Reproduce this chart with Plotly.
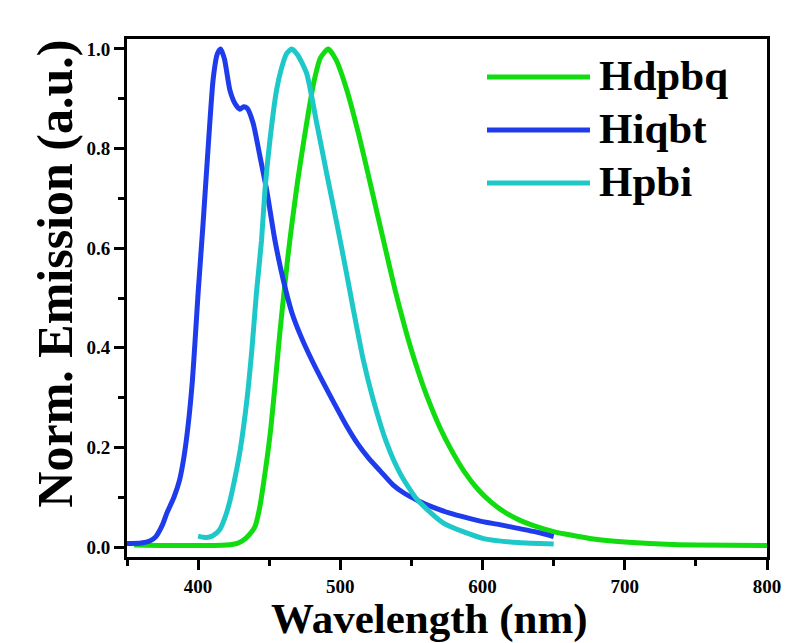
import plotly.graph_objects as go

# ---- data ----
series_names = ["Hdpbq", "Hiqbt", "Hpbi"]
series_colors = ["#10DC10", "#1E3CEB", "#1EC8C8"]

hdpbq_wl = [355, 380, 420, 428, 432, 436, 440, 443, 446, 450.7, 454.2, 457.3, 460, 463, 466,
            470, 474, 478, 481.5, 486, 491.5, 497, 504.5, 513.9, 522.1, 530.3, 538.5, 545, 550,
            556, 561, 570, 578, 587, 597, 606, 615, 626, 638, 650, 662, 678, 700, 725, 750, 800]
hdpbq_val = [0.004, 0.003, 0.004, 0.008, 0.014, 0.025, 0.041, 0.075, 0.128, 0.228, 0.329, 0.425,
             0.50, 0.58, 0.65, 0.735, 0.81, 0.88, 0.935, 0.982, 1.0, 0.978, 0.918, 0.817, 0.717,
             0.616, 0.516, 0.445, 0.395, 0.342, 0.302, 0.24, 0.195, 0.152, 0.115, 0.09, 0.071,
             0.054, 0.041, 0.031, 0.024, 0.016, 0.010, 0.006, 0.004, 0.003]

hiqbt_wl = [350, 360, 366, 370, 375, 378, 383, 387, 390, 393, 396, 398, 400, 403.5, 407, 410.6,
            413.5, 415.8, 418.5, 422.3, 426, 429.4, 432, 434.5, 438.7, 443.5, 448.2, 454, 459.9,
            466, 472, 480, 488, 496, 504, 512, 520, 528, 537, 545, 554, 565, 577, 590, 600, 612,
            624, 638, 650]
hiqbt_val = [0.007, 0.008, 0.012, 0.02, 0.045, 0.068, 0.10, 0.135, 0.18, 0.245, 0.335, 0.42,
             0.51, 0.65, 0.80, 0.94, 0.99, 1.0, 0.98, 0.918, 0.89, 0.879, 0.884, 0.881, 0.851,
             0.784, 0.717, 0.616, 0.536, 0.47, 0.425, 0.375, 0.33, 0.287, 0.245, 0.208, 0.178,
             0.153, 0.125, 0.108, 0.094, 0.08, 0.068, 0.058, 0.051, 0.045, 0.038, 0.03, 0.021]

hpbi_wl = [400, 406, 410, 415, 419, 422.5, 426, 429.6, 434.3, 437.8, 441, 444.6, 447, 450.5,
           455.2, 458.5, 462.3, 465.8, 470, 476.3, 483.4, 490.4, 497.5, 504, 509.2, 516.2, 523.2,
           532.7, 542, 553.8, 572.5, 600.7, 625, 650]
hpbi_val = [0.022, 0.019, 0.022, 0.034, 0.06, 0.094, 0.14, 0.195, 0.295, 0.396, 0.51, 0.616,
            0.717, 0.817, 0.918, 0.96, 0.991, 1.0, 0.988, 0.951, 0.851, 0.75, 0.65, 0.555, 0.476,
            0.375, 0.295, 0.208, 0.148, 0.096, 0.048, 0.017, 0.009, 0.006]

x_title = "Wavelength (nm)"
y_title = "Norm. Emission (a.u.)"

FONT = "Liberation Serif"

fig = go.Figure()
for name, color, wl, val in zip(series_names, series_colors,
                                [hdpbq_wl, hiqbt_wl, hpbi_wl],
                                [hdpbq_val, hiqbt_val, hpbi_val]):
    fig.add_trace(go.Scatter(x=wl, y=val, mode="lines", name=name,
                             line=dict(color=color, width=5, shape="spline", smoothing=0.6),
                             showlegend=False))

# custom legend (long line swatches + big bold labels)
leg_y = [0.9266, 0.8243, 0.722]
for name, color, yy in zip(series_names, series_colors, leg_y):
    fig.add_shape(type="line", xref="paper", yref="paper", x0=0.5625, x1=0.7234, y0=yy, y1=yy,
                  line=dict(color=color, width=5))
    fig.add_annotation(xref="paper", yref="paper", x=0.735, y=yy, xanchor="left", yanchor="middle",
                       text="<b>%s</b>" % name, showarrow=False, yshift=2,
                       font=dict(family=FONT, size=43, color="black"))

# axis titles
fig.add_annotation(xref="paper", yref="paper", x=0.473, y=-0.119, xanchor="center",
                   yanchor="middle", text="<b>%s</b>" % x_title, showarrow=False,
                   font=dict(family=FONT, size=43, color="black"))
fig.add_annotation(xref="paper", yref="paper", x=-0.1125, y=0.547, xanchor="center",
                   yanchor="middle", text="<b>%s</b>" % y_title, showarrow=False, textangle=-90,
                   font=dict(family=FONT, size=50, color="black"))

axis_common = dict(showline=True, linecolor="black", linewidth=3, mirror=True,
                   ticks="outside", ticklen=10, tickwidth=3, tickcolor="black",
                   showgrid=False, zeroline=False,
                   tickfont=dict(family=FONT, size=19, color="black", weight="bold"))

fig.update_xaxes(range=[350, 800], dtick=100, tick0=0,
                 minor=dict(dtick=50, ticks="outside", ticklen=6, tickwidth=3, tickcolor="black"),
                 **axis_common)
fig.update_yaxes(range=[-0.02, 1.02], dtick=0.2, tick0=0, tickformat=".1f",
                 minor=dict(dtick=0.1, ticks="outside", ticklen=6, tickwidth=3, tickcolor="black"),
                 **axis_common)

fig.update_layout(width=795, height=643, margin=dict(l=127, r=28, t=39, b=86),
                  paper_bgcolor="white", plot_bgcolor="white",
                  font=dict(family=FONT, color="black"))

fig.write_html("out.html", config={"displayModeBar": False},
               post_script="document.body.style.margin='0';")
